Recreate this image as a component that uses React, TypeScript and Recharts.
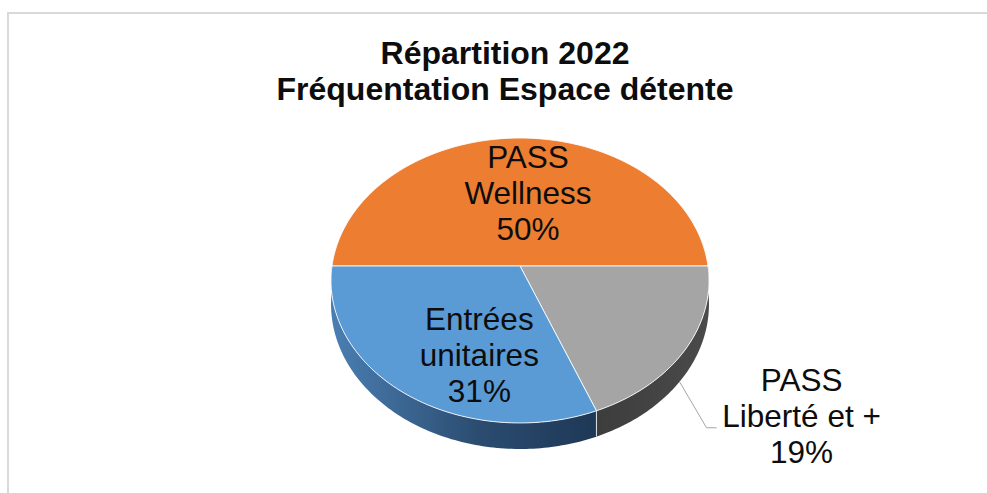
import React from "react";
import { PieChart, Pie, Cell, Tooltip } from "recharts";

// Chart content
const TITLE_LINES = ["Répartition 2022", "Fréquentation Espace détente"];
const SLICE_NAMES = ["PASS Wellness", "PASS Liberté et +", "Entrées unitaires"];
const SLICE_VALUES = [50, 19, 31];

const TOP_COLORS = ["#ED7D31", "#A5A5A5", "#5B9BD5"];
const SIDE_FILLS = ["#B85F22", "url(#sideGray)", "url(#sideBlue)"];

// Layout of the fake 3D pie
const W = 987;
const H = 493;
const CX = 520;
const CY = 266;
const R = 188;
const TILT = 0.75; // vertical squash of the top face
const PERSP = 0.1017; // front gets bigger than the back
const DEPTH = 23.4;
const FONT = "'Liberation Sans', Arial, sans-serif";

// where each label sits (radial fraction on the top face + x nudge)
const LABEL_SPOTS = [
  { k: 0.546, dx: 8, outside: false },
  { k: 1, dx: 0, outside: true },
  { k: 0.717, dx: 40, outside: false },
];

const data = SLICE_NAMES.map((name, i) => ({ name, value: SLICE_VALUES[i] }));

function project(cx: number, cy: number, r: number, deg: number, k = 1) {
  const rad = (deg * Math.PI) / 180;
  const u = Math.cos(rad) * k;
  const v = -Math.sin(rad) * k;
  const s = 1 / (1 - PERSP * v);
  return { x: cx + r * u * s, y: cy + r * TILT * v * s, s };
}

function arcPoints(cx: number, cy: number, r: number, a0: number, a1: number, drop = 0) {
  const n = Math.max(2, Math.ceil(Math.abs(a1 - a0)));
  const pts: string[] = [];
  for (let i = 0; i <= n; i++) {
    const p = project(cx, cy, r, a0 + ((a1 - a0) * i) / n);
    pts.push(`${p.x.toFixed(2)},${(p.y + drop * p.s).toFixed(2)}`);
  }
  return pts;
}

const renderSlice = (props: any) => {
  const { cx, cy, outerRadius, startAngle, endAngle, fill } = props;
  const idx = TOP_COLORS.indexOf(fill);
  const lo = Math.min(startAngle, endAngle);
  const hi = Math.max(startAngle, endAngle);

  // side wall, only on the front half
  const s0 = Math.max(lo, -180);
  const s1 = Math.min(hi, 0);
  let side = null;
  if (s1 - s0 > 0.01) {
    const top = arcPoints(cx, cy, outerRadius, s0, s1);
    const bottom = arcPoints(cx, cy, outerRadius, s1, s0, DEPTH);
    side = (
      <path
        d={`M${top.join(" L")} L${bottom.join(" L")} Z`}
        fill={SIDE_FILLS[idx] || "#444"}
      />
    );
  }

  let edge = null;
  if (startAngle > -180 && startAngle < 0) {
    const p = project(cx, cy, outerRadius, startAngle);
    edge = (
      <line
        x1={p.x}
        y1={p.y}
        x2={p.x}
        y2={p.y + DEPTH * p.s}
        stroke="#FFFFFF"
        strokeOpacity={0.8}
        strokeWidth={1}
      />
    );
  }

  const face = arcPoints(cx, cy, outerRadius, startAngle, endAngle);
  return (
    <g>
      {side}
      {edge}
      <path
        d={`M${cx},${cy} L${face.join(" L")} Z`}
        fill={fill}
        stroke="#FFFFFF"
        strokeOpacity={0.85}
        strokeWidth={1}
        strokeLinejoin="round"
      />
    </g>
  );
};

const renderLabel = (props: any) => {
  const { cx, cy, outerRadius, midAngle, percent, name } = props;
  const index = SLICE_NAMES.indexOf(name);
  const spot = LABEL_SPOTS[index];
  const cut = name.indexOf(" ");
  const lines = [name.slice(0, cut), name.slice(cut + 1), `${Math.round(percent * 100)}%`];

  let tx: number;
  let ty: number;
  let leader = null;
  if (spot.outside) {
    const p = project(cx, cy, outerRadius, midAngle - 3);
    const sx = p.x;
    const sy = p.y + DEPTH * p.s;
    const ex = sx + 27;
    const ey = sy + 46;
    leader = (
      <polyline
        points={`${sx},${sy} ${ex},${ey} ${ex + 10},${ey}`}
        fill="none"
        stroke="#A6A6A6"
        strokeWidth={1}
      />
    );
    tx = ex + 95;
    ty = ey - 1;
  } else {
    const p = project(cx, cy, outerRadius, midAngle, spot.k);
    tx = p.x + spot.dx;
    ty = p.y + 11;
  }

  return (
    <g>
      {leader}
      {lines.map((line, i) => (
        <text
          key={i}
          x={tx}
          y={ty + (i - 1) * 36}
          textAnchor="middle"
          fontFamily={FONT}
          fontSize={31.5}
          fill="#0D0D0D"
        >
          {line}
        </text>
      ))}
    </g>
  );
};

export default function App() {
  return (
    <div style={{ position: "absolute", left: 0, top: 0, width: W, height: H, background: "#fff" }}>
      <div style={{ position: "absolute", left: 0, top: 0 }}>
        <PieChart width={W} height={H} margin={{ top: 0, right: 0, bottom: 0, left: 0 }}>
          <defs>
            <linearGradient id="sideBlue" gradientUnits="userSpaceOnUse" x1={332} y1={0} x2={600} y2={0}>
              <stop offset="0%" stopColor="#4A7EB2" />
              <stop offset="55%" stopColor="#2B4C70" />
              <stop offset="100%" stopColor="#1E3756" />
            </linearGradient>
            <linearGradient id="sideGray" gradientUnits="userSpaceOnUse" x1={590} y1={0} x2={708} y2={0}>
              <stop offset="0%" stopColor="#3C3C3C" />
              <stop offset="100%" stopColor="#4A4A4A" />
            </linearGradient>
          </defs>
          <Pie
            data={data}
            dataKey="value"
            nameKey="name"
            cx={CX}
            cy={CY}
            innerRadius={0}
            outerRadius={R}
            startAngle={180}
            endAngle={-180}
            stroke="none"
            shape={renderSlice}
            activeShape={renderSlice}
            inactiveShape={renderSlice}
            label={renderLabel}
            labelLine={false}
            isAnimationActive={false}
          >
            {data.map((entry, index) => (
              <Cell key={`cell-${index}`} fill={TOP_COLORS[index]} />
            ))}
          </Pie>
          <Tooltip defaultIndex={0} content={() => null} wrapperStyle={{ display: "none" }} />
        </PieChart>
      </div>
      <svg
        width={W}
        height={H}
        style={{ position: "absolute", left: 0, top: 0, pointerEvents: "none" }}
      >
        <line x1={7} y1={13} x2={W} y2={13} stroke="#D9D9D9" strokeWidth={2} />
        <line x1={8} y1={12} x2={8} y2={H} stroke="#D9D9D9" strokeWidth={2} />
        {TITLE_LINES.map((t, i) => (
          <text
            key={t}
            x={505}
            y={64 + i * 36}
            textAnchor="middle"
            fontFamily={FONT}
            fontWeight="bold"
            fontSize={32}
            fill="#0D0D0D"
          >
            {t}
          </text>
        ))}
      </svg>
    </div>
  );
}
